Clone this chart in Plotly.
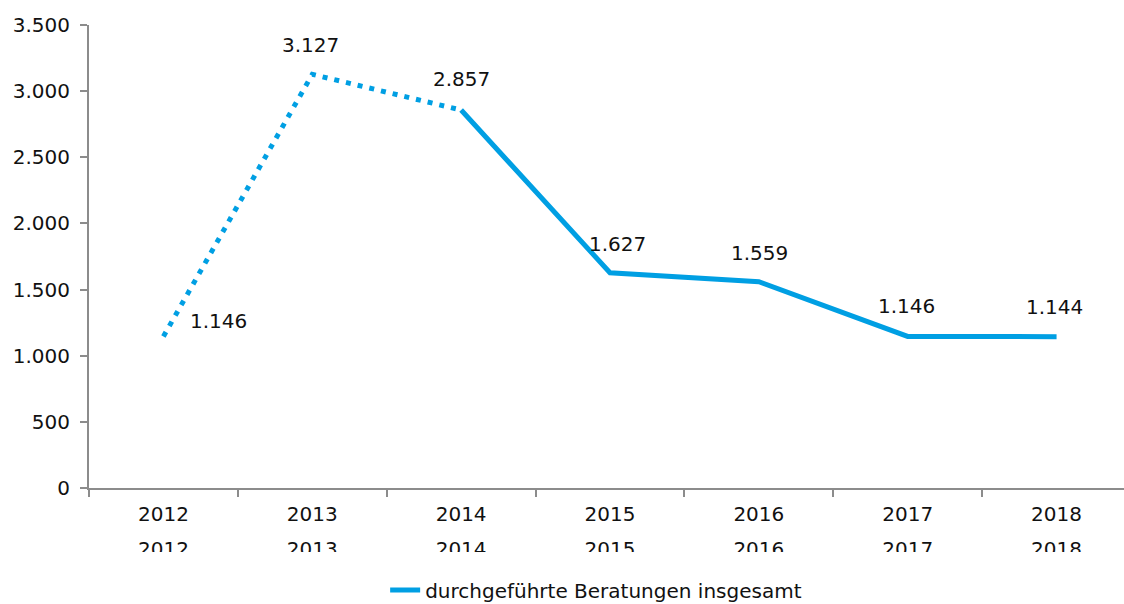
import plotly.graph_objects as go

years = ["2012", "2013", "2014", "2015", "2016", "2017", "2018"]
values = [1146, 3127, 2857, 1627, 1559, 1146, 1144]
labels = ["1.146", "3.127", "2.857", "1.627", "1.559", "1.146", "1.144"]
series_name = "durchgeführte Beratungen insgesamt"
y_ticks = [0, 500, 1000, 1500, 2000, 2500, 3000, 3500]
y_ticktext = ["0", "500", "1.000", "1.500", "2.000", "2.500", "3.000", "3.500"]

BLUE = "#009FE3"
FONT = "DejaVu Sans"
TXT = "#111111"
AX = "#8c8c8c"
FS = 20

fig = go.Figure()

# dotted part (2012-2014)
fig.add_trace(go.Scatter(
    x=years[:3], y=values[:3], mode="lines",
    line=dict(color=BLUE, width=5, dash="5px,7px"),
    showlegend=False, hoverinfo="skip", xaxis="x", yaxis="y"))

# solid part (2014-2018)
fig.add_trace(go.Scatter(
    x=years[2:], y=values[2:], mode="lines",
    line=dict(color=BLUE, width=5),
    name=series_name, showlegend=True, xaxis="x", yaxis="y"))

# duplicate row of category labels (lower half masked below)
fig.add_trace(go.Scatter(
    x=years, y=[0.5] * len(years), mode="text", text=years,
    textposition="middle center",
    textfont=dict(family=FONT, size=FS, color=TXT),
    cliponaxis=False, showlegend=False, hoverinfo="skip",
    xaxis="x2", yaxis="y2"))

# data labels
offsets = [(25, 15, "left"), (-2, 29, "center"), (0, 31, "center"),
           (7, 29, "center"), (1, 29, "center"), (-1, 30, "center"), (-2, 30, "center")]
for i, (v, lab, (xs, ys, xa)) in enumerate(zip(values, labels, offsets)):
    fig.add_annotation(x=i, y=v, text=lab, showarrow=False, xref="x", yref="y",
                       xshift=xs, yshift=ys, xanchor=xa, yanchor="middle",
                       font=dict(family=FONT, size=FS, color=TXT))

W, H = 1124, 604
mt, mb = 25, 40
ph = H - mt - mb


def py(pix):
    return (H - mb - pix) / ph


main_bottom = py(488)

# mask hiding the lower part of the duplicate label row
fig.add_shape(type="rect", xref="paper", yref="paper",
              x0=-0.05, x1=1.0, y0=py(564), y1=py(552),
              fillcolor="white", line=dict(width=0), layer="above")

fig.update_layout(
    width=W, height=H,
    margin=dict(l=89, r=0, t=mt, b=mb, autoexpand=False),
    paper_bgcolor="white", plot_bgcolor="white",
    font=dict(family=FONT, size=FS, color=TXT),
    xaxis=dict(type="category", categoryorder="array", categoryarray=years,
               range=[-0.5, 6.453], domain=[0, 1], anchor="y", automargin=False,
               showline=True, linecolor=AX, linewidth=2,
               ticks="outside", tickson="boundaries", ticklen=7, tickcolor=AX, tickwidth=2,
               ticklabelstandoff=7,
               showgrid=False, zeroline=False,
               tickfont=dict(family=FONT, size=FS, color=TXT)),
    yaxis=dict(range=[0, 3500], domain=[main_bottom, 1], anchor="x", automargin=False,
               tickvals=y_ticks, ticktext=y_ticktext,
               showline=True, linecolor=AX, linewidth=2,
               ticks="outside", ticklen=7, tickcolor=AX, tickwidth=2,
               ticklabelstandoff=6,
               showgrid=False, zeroline=False,
               tickfont=dict(family=FONT, size=FS, color=TXT)),
    xaxis2=dict(type="category", categoryorder="array", categoryarray=years,
                range=[-0.5, 6.453], domain=[0, 1], anchor="y2", visible=False),
    yaxis2=dict(range=[0, 1], domain=[py(559), py(543)], anchor="x2", visible=False),
    legend=dict(orientation="h", x=0.490, xanchor="center",
                y=py(590), yanchor="middle",
                font=dict(family=FONT, size=FS, color=TXT),
                bgcolor="rgba(0,0,0,0)"),
    hovermode=False,
)

fig.write_html("out.html",
               config={"displayModeBar": False},
               post_script="document.body.style.margin='0';document.body.style.padding='0';")
